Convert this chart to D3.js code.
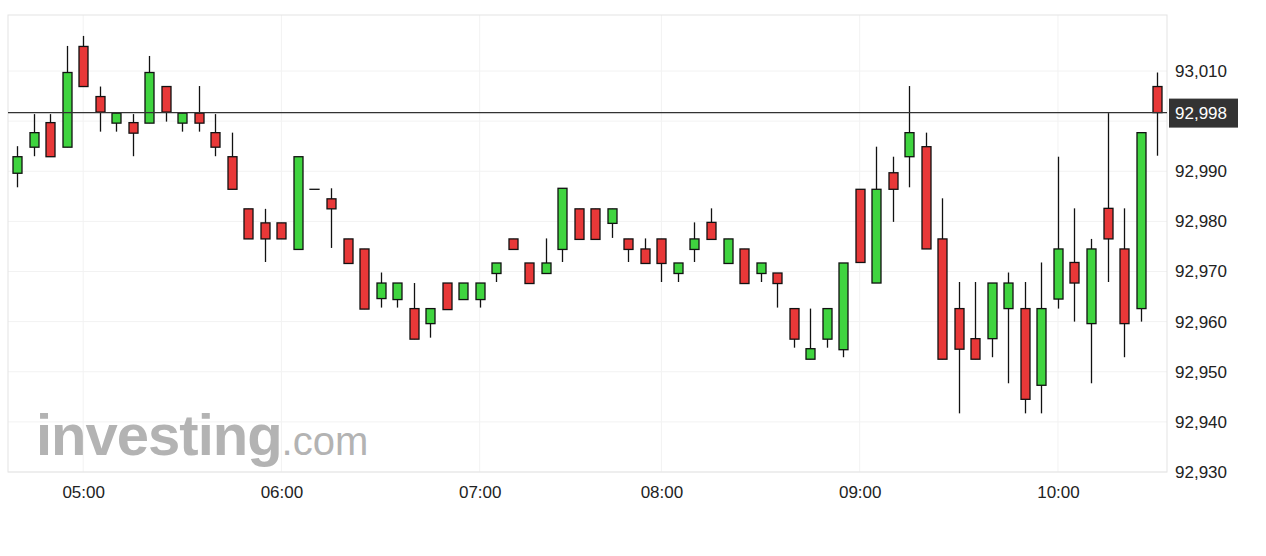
<!DOCTYPE html>
<html><head><meta charset="utf-8">
<script src="https://cdn.jsdelivr.net/npm/d3@7"></script>
<style>body{margin:0;background:#fff;font-family:"Liberation Sans",Arial,sans-serif}</style>
</head><body><svg id="c" width="1266" height="556"></svg>
<script>
const times=["04:40","04:45","04:50","04:55","05:00","05:05","05:10","05:15","05:20","05:25","05:30","05:35","05:40","05:45","05:50","05:55",
"06:00","06:05","06:10","06:15","06:20","06:25","06:30","06:35","06:40","06:45","06:50","06:55",
"07:00","07:05","07:10","07:15","07:20","07:25","07:30","07:35","07:40","07:45","07:55",
"08:00","08:05","08:10","08:15","08:20","08:25","08:30","08:35","08:40","08:45","08:50","08:55",
"09:00","09:05","09:10","09:15","09:20","09:25","09:30","09:35","09:40","09:45","09:50","09:55",
"10:00","10:05","10:10","10:15","10:20","10:25","10:30"];
const open=[92989.6,92994.8,92999.7,92994.8,93014.9,93004.9,92999.6,92999.7,92999.6,93006.9,92999.6,93001.6,92997.7,92992.9,92982.5,92979.7,92979.7,92974.4,92986.4,92984.5,92976.5,92974.5,92964.6,92964.4,92962.6,92959.6,92967.7,92964.4,92964.4,92969.6,92976.5,92971.7,92969.6,92974.4,92982.5,92982.5,92979.6,92976.5,92974.5,92976.5,92969.6,92974.4,92979.8,92971.6,92974.5,92969.6,92969.7,92962.6,92952.5,92956.5,92954.4,92986.4,92967.7,92989.7,92992.9,92994.9,92976.5,92962.6,92956.6,92956.6,92962.6,92962.6,92947.3,92964.5,92971.8,92959.6,92982.6,92974.5,92962.6,93006.9];
const close=[92992.9,92997.7,92992.9,93009.7,93006.9,93001.8,93001.6,92997.6,93009.7,93001.8,93001.6,92999.6,92994.8,92986.4,92976.5,92976.5,92976.5,92992.9,92986.4,92982.5,92971.6,92962.5,92967.7,92967.7,92956.5,92962.6,92962.4,92967.7,92967.7,92971.7,92974.4,92967.6,92971.7,92986.6,92976.4,92976.4,92982.5,92974.4,92971.6,92971.6,92971.7,92976.5,92976.4,92976.5,92967.6,92971.7,92967.6,92956.5,92954.6,92962.6,92971.7,92971.8,92986.4,92986.4,92997.7,92974.5,92952.5,92954.5,92952.5,92967.7,92967.7,92944.5,92962.6,92974.5,92967.7,92974.5,92976.5,92959.6,92997.7,93001.7];
const high=[92995.0,93001.4,93001.4,93015.0,93017.0,93006.9,93001.6,93001.4,93013.0,93006.9,93001.6,93007.0,93001.4,92997.7,92982.5,92982.5,92979.7,92992.9,92986.4,92986.6,92976.5,92974.5,92969.8,92967.7,92967.7,92962.6,92967.7,92967.7,92967.7,92971.7,92976.5,92971.7,92976.6,92986.6,92982.5,92982.5,92982.5,92976.5,92976.6,92976.5,92971.7,92979.8,92982.6,92976.5,92974.5,92971.7,92969.7,92962.6,92962.6,92962.6,92971.7,92986.4,92994.9,92992.9,93007.0,92997.7,92984.6,92967.9,92967.9,92967.7,92969.8,92967.9,92971.8,92992.9,92982.6,92976.5,93001.6,92982.6,92997.7,93009.7];
const low=[92986.8,92993.0,92992.9,92994.8,93006.9,92997.9,92997.9,92993.0,92999.6,92999.9,92997.9,92997.9,92993.0,92986.4,92976.5,92971.9,92976.5,92974.4,92986.4,92974.7,92971.6,92962.5,92962.8,92962.8,92956.5,92956.8,92962.4,92964.4,92962.8,92967.9,92974.4,92967.6,92969.6,92971.9,92976.4,92976.4,92976.7,92971.9,92971.6,92967.9,92967.9,92971.9,92976.4,92971.6,92967.6,92967.9,92962.8,92954.8,92952.5,92954.8,92952.9,92971.8,92967.7,92979.9,92986.8,92974.5,92952.5,92941.7,92952.5,92952.9,92947.7,92941.7,92941.7,92962.6,92960.0,92947.7,92967.9,92952.9,92960.0,92993.1];
const yTicks=[92930,92940,92950,92960,92970,92980,92990,93000,93010];
const lastLabel="92,998";

const svg=d3.select("#c");
const L=8,R=1167,T=15,B=472;
const x=d3.scaleLinear().domain([-0.55,69.6]).range([L,R]);
const y=d3.scaleLinear().domain([92930,93010]).range([472,71]);
const fmt=d3.format(",");
// grid
svg.append("g").selectAll("line").data(yTicks).join("line")
 .attr("x1",L).attr("x2",R).attr("y1",d=>y(d)).attr("y2",d=>y(d)).attr("stroke","#f2f2f2");
const hourIdx=times.map((t,i)=>t.endsWith(":00")?i:-1).filter(i=>i>=0);
svg.append("g").selectAll("line").data(hourIdx).join("line")
 .attr("x1",d=>x(d)).attr("x2",d=>x(d)).attr("y1",T).attr("y2",B).attr("stroke","#f2f2f2");
svg.append("rect").attr("x",L).attr("y",T).attr("width",R-L).attr("height",B-T).attr("fill","none").attr("stroke","#e3e3e3");
// watermark
const wm=svg.append("text").attr("x",36).attr("y",455).attr("fill","#9a9a9a").attr("opacity",0.75);
wm.append("tspan").text("investing").attr("font-size",58).attr("font-weight","bold").attr("letter-spacing",-1);
wm.append("tspan").text(".com").attr("font-size",40);
// axes
const ya=d3.axisRight(y).tickValues(yTicks.filter(d=>d!==93000)).tickFormat(fmt).tickSize(0).tickPadding(8);
svg.append("g").attr("transform",`translate(${R},0)`).call(ya)
 .call(g=>g.select(".domain").remove()).selectAll("text").attr("font-size",17).attr("fill","#222").attr("font-family","Liberation Sans, Arial");
const xa=d3.axisBottom(x).tickValues(hourIdx).tickFormat(i=>times[i]).tickSize(0).tickPadding(14);
svg.append("g").attr("transform",`translate(0,${B})`).call(xa)
 .call(g=>g.select(".domain").remove()).selectAll("text").attr("font-size",17).attr("fill","#222").attr("font-family","Liberation Sans, Arial");
// candles
const idx=d3.range(times.length);
const w=9;
svg.append("g").selectAll("line").data(idx).join("line")
 .attr("x1",i=>Math.round(x(i))+0.5).attr("x2",i=>Math.round(x(i))+0.5)
 .attr("y1",i=>y(high[i])).attr("y2",i=>y(low[i])).attr("stroke","#111").attr("stroke-width",1.3);
svg.append("g").selectAll("rect").data(idx).join("rect")
 .attr("x",i=>Math.round(x(i))+0.5-w/2).attr("width",w)
 .attr("y",i=>y(Math.max(open[i],close[i])))
 .attr("height",i=>Math.max(0.01,Math.abs(y(open[i])-y(close[i]))))
 .attr("fill",i=>close[i]>=open[i]?"#3fd43f":"#e83838").attr("stroke","#111").attr("stroke-width",1.3);
// last price line
const lp=close[close.length-1];
svg.append("line").attr("x1",L).attr("x2",R).attr("y1",y(lp)).attr("y2",y(lp)).attr("stroke","#333").attr("stroke-width",1.2);
svg.append("rect").attr("x",R+2).attr("y",y(lp)-14).attr("width",69).attr("height",29).attr("fill","#333");
svg.append("text").attr("x",R+8).attr("y",y(lp)+6).text(lastLabel).attr("fill","#fff").attr("font-size",17);
</script></body></html>
